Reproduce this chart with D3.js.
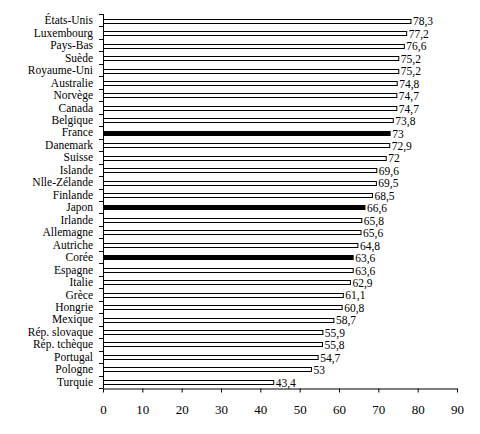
<!DOCTYPE html>
<html>
<head>
<meta charset="utf-8">
<script src="https://cdn.jsdelivr.net/npm/d3@7"></script>
<style>
  body { margin: 0; background: #fff; }
  svg text { font-family: "Liberation Serif", "Times New Roman", serif; font-size: 11.5px; fill: #000; }
</style>
</head>
<body>
<svg width="480" height="434"></svg>
<script>
var countries = ["États-Unis", "Luxembourg", "Pays-Bas", "Suède", "Royaume-Uni", "Australie",
  "Norvège", "Canada", "Belgique", "France", "Danemark", "Suisse", "Islande", "Nlle-Zélande",
  "Finlande", "Japon", "Irlande", "Allemagne", "Autriche", "Corée", "Espagne", "Italie", "Grèce",
  "Hongrie", "Mexique", "Rép. slovaque", "Rép. tchèque", "Portugal", "Pologne", "Turquie"];
var values = [78.3, 77.2, 76.6, 75.2, 75.2, 74.8, 74.7, 74.7, 73.8, 73, 72.9, 72, 69.6, 69.5,
  68.5, 66.6, 65.8, 65.6, 64.8, 63.6, 63.6, 62.9, 61.1, 60.8, 58.7, 55.9, 55.8, 54.7, 53, 43.4];
var highlighted = ["France", "Japon", "Corée"];
var xTicks = [0, 10, 20, 30, 40, 50, 60, 70, 80, 90];

var data = countries.map(function(c, i) { return { name: c, value: values[i] }; });

var svg = d3.select("svg");
var margin = { left: 103, right: 23, top: 14, bottom: 46 };
var width = 480 - margin.left - margin.right,
    height = 434 - margin.top - margin.bottom;

var g = svg.append("g")
    .attr("transform", "translate(" + margin.left + "," + margin.top + ")");

var x = d3.scaleLinear().domain([0, 90]).range([0, 354]);
var y = d3.scaleBand().domain(countries).range([0, height]).paddingInner(0.56).paddingOuter(0.3);

var band = height / countries.length;

// bars
g.selectAll("rect.bar")
  .data(data)
  .enter().append("rect")
    .attr("class", "bar")
    .attr("x", 0.5)
    .attr("y", function(d) { return Math.round(y(d.name) + 1) + 0.5; })
    .attr("width", function(d) { return x(d.value) - 0.5; })
    .attr("height", Math.round(y.bandwidth()) - 1)
    .attr("fill", function(d) { return highlighted.indexOf(d.name) >= 0 ? "#000" : "#fff"; })
    .attr("stroke", "#000")
    .attr("stroke-width", 1);

// value labels
g.selectAll("text.val")
  .data(data)
  .enter().append("text")
    .attr("class", "val")
    .attr("x", function(d) { return x(d.value) + 2; })
    .attr("y", function(d) { return y(d.name) + y.bandwidth() / 2 + 1; })
    .attr("dy", "0.35em")
    .text(function(d) { return String(d.value).replace(".", ","); });

// y axis: line + ticks between categories
g.append("line")
  .attr("x1", 0.5).attr("x2", 0.5)
  .attr("y1", 0).attr("y2", height)
  .attr("stroke", "#000");

g.selectAll("line.ytick")
  .data(d3.range(countries.length + 1))
  .enter().append("line")
    .attr("class", "ytick")
    .attr("x1", -4).attr("x2", 0.5)
    .attr("y1", function(i) { return Math.round(i * band) + 0.5; })
    .attr("y2", function(i) { return Math.round(i * band) + 0.5; })
    .attr("stroke", "#000");

g.selectAll("text.cat")
  .data(countries)
  .enter().append("text")
    .attr("class", "cat")
    .attr("x", -10)
    .attr("y", function(d, i) { return (i + 0.5) * band; })
    .attr("dy", "0.35em")
    .attr("text-anchor", "end")
    .text(function(d) { return d; });

// x axis
var xAxis = g.append("g")
  .attr("transform", "translate(0," + (Math.round(height) + 0.5) + ")")
  .call(d3.axisBottom(x).tickValues(xTicks).tickSize(4).tickSizeOuter(0).tickPadding(12));
xAxis.select(".domain").attr("stroke", "#000");
xAxis.selectAll(".tick line").attr("stroke", "#000");
xAxis.selectAll("text").attr("font-family", null).attr("font-size", null).style("font-size", "13px");
</script>
</body>
</html>
